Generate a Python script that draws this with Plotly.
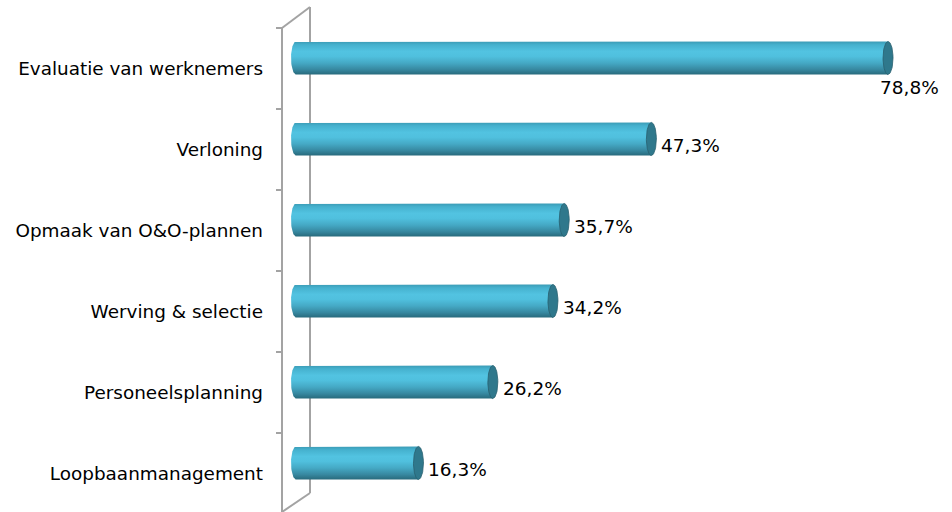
import numpy as np
import plotly.graph_objects as go

# Survey results: share of organisations using competency profiles per HR domain
categories = [
    "Evaluatie van werknemers",
    "Verloning",
    "Opmaak van O&O-plannen",
    "Werving & selectie",
    "Personeelsplanning",
    "Loopbaanmanagement",
]
values = [78.8, 47.3, 35.7, 34.2, 26.2, 16.3]
value_labels = ["78,8%", "47,3%", "35,7%", "34,2%", "26,2%", "16,3%"]

# Canvas / scale settings (pixels)
W, H = 952, 512
PLOT_LEFT = 270
PX_PER_PCT = 7.513        # horizontal pixels per percentage point
PX_PER_CAT = 81.0         # vertical pixels per category slot
ZERO_PX = 296             # pixel position of value 0 (mid-depth of the 3D wall)
FIRST_CAT_PX = 68.5       # pixel centre of the first category on the front plane
DEPTH_X, DEPTH_Y = 28, 21 # 3D wall depth offset (pixels)

def dx(px):
    return px / PX_PER_PCT

def dy(px):
    return px / PX_PER_CAT

x_range = [dx(PLOT_LEFT - ZERO_PX), dx(W - ZERO_PX)]
y_range = [dy(H - FIRST_CAT_PX), dy(0 - FIRST_CAT_PX)]  # reversed: first category on top

FONT = "DejaVu Sans"
WALL = "#a3a3a3"

BAR_SCALE = [
    [0.00, "#3b9bb5"],
    [0.10, "#45b1ce"],
    [0.30, "#52c3e1"],
    [0.45, "#50c0de"],
    [0.65, "#45a9c5"],
    [0.85, "#3788a0"],
    [1.00, "#286a7c"],
]
CAP_COLOR = "#2f788c"
CAP_EDGE = "#285f6f"

fig = go.Figure()

a = dx(5.0)      # horizontal semi-axis of the cylinder ends
b = dy(16.5)     # vertical half-thickness of the cylinder
shift_x = dx(DEPTH_X / 2)   # bars sit halfway into the depth
shift_y = dy(DEPTH_Y / 2)
front_x = -shift_x

t_left = np.linspace(np.pi / 2, 3 * np.pi / 2, 40)
t_full = np.linspace(0, 2 * np.pi, 80)

for i, (v, lab) in enumerate(zip(values, value_labels)):
    yc = i - shift_y
    # cylinder body: rounded left end, straight right end (covered by the cap)
    lx = a * np.cos(t_left)
    ly = yc - b * np.sin(t_left)
    body_x = [v] + list(lx) + [v, v]
    body_y = [yc - b] + list(ly) + [yc + b, yc - b]
    fig.add_trace(go.Scatter(
        x=body_x, y=body_y, mode="lines", fill="toself",
        line=dict(width=0, color="rgba(0,0,0,0)"),
        fillgradient=dict(type="vertical", colorscale=BAR_SCALE,
                          start=yc - b, stop=yc + b),
        hoverinfo="skip", showlegend=False,
    ))
    # right end cap
    fig.add_trace(go.Scatter(
        x=v + a * np.cos(t_full), y=yc + b * np.sin(t_full),
        mode="lines", fill="toself", fillcolor=CAP_COLOR,
        line=dict(width=0.8, color=CAP_EDGE),
        hoverinfo="skip", showlegend=False,
    ))
    # value label: beside the bar, or below its end when there is no room
    if v + dx(80) > x_range[1]:
        fig.add_annotation(x=v + dx(21.5), y=yc + dy(29), text=lab,
                           showarrow=False, xanchor="center", yanchor="middle",
                           font=dict(family=FONT, size=18.5, color="#000000"))
    else:
        fig.add_annotation(x=v + dx(8), y=yc + dy(6.5), text=lab,
                           showarrow=False, xanchor="left", yanchor="middle",
                           font=dict(family=FONT, size=18.5, color="#000000"))

# 3D side wall of the category axis
back_x = front_x + dx(DEPTH_X)
top_y = -0.5
last_y = len(categories) - 0.5
wall_lines = [
    (front_x, top_y, front_x, y_range[0]),
    (front_x, top_y, back_x, top_y - dy(DEPTH_Y)),
    (back_x, top_y - dy(DEPTH_Y), back_x, last_y - dy(DEPTH_Y)),
    (back_x, last_y - dy(DEPTH_Y), front_x, y_range[0]),
]
for x0, y0, x1, y1 in wall_lines:
    fig.add_shape(type="line", x0=x0, y0=y0, x1=x1, y1=y1, xref="x", yref="y",
                  line=dict(color=WALL, width=2), layer="below")
# category separator ticks on the front edge
for k in range(len(categories)):
    yb = k - 0.5
    fig.add_shape(type="line", x0=front_x - dx(6), y0=yb, x1=front_x, y1=yb,
                  xref="x", yref="y", line=dict(color=WALL, width=2), layer="below")

fig.update_layout(
    width=W, height=H,
    margin=dict(l=PLOT_LEFT, r=0, t=0, b=0),
    paper_bgcolor="white", plot_bgcolor="white",
    xaxis=dict(range=x_range, visible=False, fixedrange=True),
    yaxis=dict(range=y_range, tickmode="array", tickvals=list(range(len(categories))),
               ticktext=categories, showgrid=False, zeroline=False, showline=False,
               ticks="", ticklabelstandoff=6,
               tickfont=dict(family=FONT, size=18.4, color="#000000")),
    showlegend=False,
)

fig.write_html("out.html")
